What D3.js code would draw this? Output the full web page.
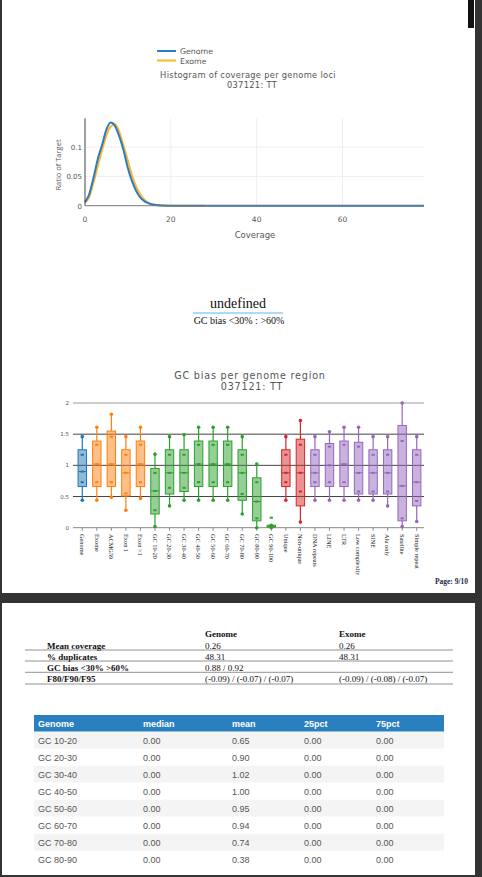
<!DOCTYPE html>
<html><head><meta charset="utf-8">
<script src="https://cdn.jsdelivr.net/npm/d3@7"></script>
<style>html,body{margin:0;padding:0;background:#333;overflow:hidden}svg{display:block}</style>
</head><body><svg id="c" width="482" height="877"></svg>
<script>
// ---------- data ----------
const covX = d3.range(0, 80);
const genomeHist = [0.006,0.02,0.048,0.08,0.104,0.13,0.142,0.136,0.118,0.094,0.064,0.041,0.024,0.013,0.007,0.0035,0.0016,0.0007,0.0003,0.0001].concat(d3.range(20,80).map(()=>0));
const exomeHist = [0.005,0.015,0.04,0.068,0.095,0.12,0.135,0.139,0.126,0.102,0.076,0.051,0.031,0.018,0.009,0.0045,0.002,0.001,0.0005,0.0002,0,0,0,0,0,0,0,0,0];
const histXTicks = [0,20,40,60];
const histYTicks = [0,0.05,0.1];

const cats = ["Genome","Exome","ACMG59","Exon 1","Exon >1","GC 10-20","GC 20-30","GC 30-40","GC 40-50","GC 50-60","GC 60-70","GC 70-80","GC 80-90","GC 90-100","Unique","Non-unique","DNA repeats","LINE","LTR","Low complexity","SINE","Alu only","Satellite","Simple repeat"];
const catGroup = [0,1,1,1,1,2,2,2,2,2,2,2,2,2,3,3,4,4,4,4,4,4,4,4];
const boxLo  = [0.44,0.44,0.49,0.28,0.47,0.02,0.35,0.44,0.44,0.44,0.44,0.22,0.00,0.00,0.44,0.09,0.44,0.44,0.44,0.44,0.44,0.35,0.02,0.10];
const boxQ1  = [0.66,0.66,0.66,0.51,0.66,0.22,0.54,0.58,0.66,0.66,0.66,0.44,0.11,0.01,0.66,0.35,0.66,0.66,0.66,0.54,0.54,0.54,0.11,0.35];
const boxMed = [0.90,1.02,1.02,0.88,1.02,0.59,0.88,0.88,1.02,1.02,1.02,0.88,0.42,0.02,0.88,0.88,0.88,1.00,1.02,0.88,0.88,0.88,0.67,0.73];
const boxQ3  = [1.25,1.39,1.55,1.25,1.39,0.95,1.25,1.25,1.39,1.39,1.39,1.25,0.80,0.04,1.25,1.42,1.25,1.35,1.39,1.37,1.25,1.25,1.64,1.25];
const boxHi  = [1.46,1.61,1.82,1.46,1.61,1.18,1.46,1.49,1.61,1.61,1.61,1.46,1.02,0.04,1.46,1.72,1.46,1.54,1.61,1.61,1.46,1.46,2.00,1.46];
const boxPts = [[0.73,1.17],[0.73,1.33],[0.73,1.46],[0.55,1.17],[0.73,1.33],[0.28,0.88],[0.64,1.17],[0.64,1.17],[0.73,1.33],[0.73,1.33],[0.73,1.33],[0.54,1.17],[0.15,0.73],[0.16],[0.73,1.17],[0.58,1.33],[0.73,1.17],[0.73,1.30],[0.73,1.33],[0.58,1.30],[0.58,1.17],[0.58,1.17],[0.15,1.39],[0.43,1.17]];
const boxYTicks = [0,0.5,1,1.5,2];
const groupColors = ["#1f77b4","#ff7f0e","#2ca02c","#d62728","#9467bd"];

const sumRows = ["Mean coverage","% duplicates","GC bias <30% >60%","F80/F90/F95"];
const sumGenome = ["0.26","48.31","0.88 / 0.92","(-0.09) / (-0.07) / (-0.07)"];
const sumExome = ["0.26","48.31","","(-0.09) / (-0.08) / (-0.07)"];

const gcHead = ["Genome","median","mean","25pct","75pct"];
const gcRows = ["GC 10-20","GC 20-30","GC 30-40","GC 40-50","GC 50-60","GC 60-70","GC 70-80","GC 80-90"];
const gcMedian = ["0.00","0.00","0.00","0.00","0.00","0.00","0.00","0.00"];
const gcMean = ["0.65","0.90","1.02","1.00","0.95","0.94","0.74","0.38"];
const gc25 = ["0.00","0.00","0.00","0.00","0.00","0.00","0.00","0.00"];
const gc75 = ["0.00","0.00","0.00","0.00","0.00","0.00","0.00","0.00"];

// ---------- drawing ----------
const svg = d3.select("#c");
const SANS = "'DejaVu Sans', Verdana, sans-serif";
const OPEN = "'Open Sans', 'DejaVu Sans', sans-serif";
const SERIF = "'Liberation Serif', 'DejaVu Serif', serif";
const ARIAL = "'Liberation Sans', Arial, sans-serif";

svg.append("rect").attr("x",0).attr("y",0).attr("width",482).attr("height",877).attr("fill","#333");
svg.append("rect").attr("x",2).attr("y",0).attr("width",473).attr("height",593).attr("fill","#fff");
svg.append("rect").attr("x",2).attr("y",603).attr("width",473).attr("height",272).attr("fill","#fff");
svg.append("rect").attr("x",468).attr("y",0).attr("width",6).attr("height",28).attr("fill","#111");

// ---- histogram ----
const hx = d3.scaleLinear().domain([0,79]).range([85,424]);
const hy = d3.scaleLinear().domain([0,0.149]).range([205.7,118.3]);
const hg = svg.append("g");
hg.selectAll(".vg").data(histXTicks.filter(d=>d>0)).join("line")
  .attr("x1",d=>hx(d)).attr("x2",d=>hx(d)).attr("y1",hy(0)).attr("y2",hy(0.149)).attr("stroke","#eee");
hg.selectAll(".hgl").data(histYTicks.filter(d=>d>0)).join("line")
  .attr("x1",hx(0)).attr("x2",hx(79)).attr("y1",d=>hy(d)).attr("y2",d=>hy(d)).attr("stroke","#eee");
const line = d3.line().x((d,i)=>hx(covX[i])).y(d=>hy(d)).curve(d3.curveMonotoneX);
hg.append("path").attr("d",line(exomeHist)).attr("fill","none").attr("stroke","#fdb72a").attr("stroke-width",2);
hg.append("path").attr("d",line(genomeHist)).attr("fill","none").attr("stroke","#2b7bc4").attr("stroke-width",2);
hg.append("line").attr("x1",hx(0)).attr("x2",hx(0)).attr("y1",hy(0)).attr("y2",hy(0.149)).attr("stroke","#444");
hg.append("line").attr("x1",hx(0)).attr("x2",hx(79)).attr("y1",hy(0)).attr("y2",hy(0)).attr("stroke","#777");
hg.selectAll(".xt").data(histXTicks).join("text").attr("x",d=>hx(d)).attr("y",222).attr("text-anchor","middle")
  .attr("font-family",SANS).attr("font-size",7.5).attr("fill","#555").text(d=>d);
hg.selectAll(".yt").data(histYTicks).join("text").attr("x",82).attr("y",d=>hy(d)+3).attr("text-anchor","end")
  .attr("font-family",SANS).attr("font-size",7).attr("fill","#555").text(d=>d===0?"0":d);
hg.append("text").attr("x",255).attr("y",238).attr("text-anchor","middle").attr("font-family",SANS).attr("font-size",8.5).attr("fill","#555").text("Coverage");
hg.append("text").attr("transform","translate(61,165) rotate(-90)").attr("text-anchor","middle").attr("font-family",OPEN).attr("font-size",7.5).attr("fill","#555").text("Ratio of Target");
hg.append("text").attr("x",248).attr("y",78).attr("text-anchor","middle").attr("font-family",SANS).attr("font-size",8.3).attr("letter-spacing",0.3).attr("fill","#555").text("Histogram of coverage per genome loci");
hg.append("text").attr("x",252).attr("y",88).attr("text-anchor","middle").attr("font-family",SANS).attr("font-size",8.3).attr("letter-spacing",0.3).attr("fill","#555").text("037121: TT");
const leg = [["Genome","#2b7bc4",51],["Exome","#fdb72a",60.5]];
leg.forEach(([t,c,y])=>{
  hg.append("line").attr("x1",157).attr("x2",176).attr("y1",y).attr("y2",y).attr("stroke",c).attr("stroke-width",2);
  hg.append("text").attr("x",180).attr("y",y+3).attr("font-family",SANS).attr("font-size",7.8).attr("fill","#555").text(t);
});

// ---- middle titles ----
svg.append("text").attr("x",238).attr("y",308).attr("text-anchor","middle").attr("font-family",SERIF).attr("font-size",14).attr("fill","#111").text("undefined");
svg.append("line").attr("x1",193).attr("x2",283).attr("y1",313).attr("y2",313).attr("stroke","#8fd0f5").attr("stroke-width",1.6);
svg.append("text").attr("x",239).attr("y",324).attr("text-anchor","middle").attr("font-family",SERIF).attr("font-size",10).attr("fill","#111").text("GC bias <30% : >60%");

// ---- box plot ----
const bx = d3.scaleBand().domain(cats).range([75,424]);
const by = d3.scaleLinear().domain([0,2]).range([527.7,403]);
const bg = svg.append("g");
bg.append("text").attr("x",250).attr("y",378.5).attr("text-anchor","middle").attr("font-family",SANS).attr("font-size",9.6).attr("letter-spacing",0.8).attr("fill","#555").text("GC bias per genome region");
bg.append("text").attr("x",252).attr("y",389.5).attr("text-anchor","middle").attr("font-family",SANS).attr("font-size",9.6).attr("letter-spacing",0.8).attr("fill","#555").text("037121: TT");
bg.selectAll(".gl").data(boxYTicks).join("line")
  .attr("x1",73).attr("x2",424).attr("y1",d=>by(d)).attr("y2",d=>by(d))
  .attr("stroke",d=>d===2?"#999":(d===0?"#888":"#444")).attr("stroke-width",1);
bg.selectAll(".tk").data(cats).join("line")
  .attr("x1",d=>bx(d)+bx.bandwidth()/2).attr("x2",d=>bx(d)+bx.bandwidth()/2).attr("y1",by(0)).attr("y2",by(0)+3).attr("stroke","#888");
bg.selectAll(".yl").data(boxYTicks).join("text").attr("x",69).attr("y",d=>by(d)+2).attr("text-anchor","end")
  .attr("font-family",SANS).attr("font-size",5.5).attr("fill","#555").text(d=>d);
const bw = 8.4;
cats.forEach((c,i)=>{
  const cx = bx(c)+bx.bandwidth()/2;
  const col = groupColors[catGroup[i]];
  const g = bg.append("g");
  g.append("line").attr("x1",cx).attr("x2",cx).attr("y1",by(boxLo[i])).attr("y2",by(boxQ1[i])).attr("stroke",col).attr("stroke-width",1.2);
  g.append("line").attr("x1",cx).attr("x2",cx).attr("y1",by(boxQ3[i])).attr("y2",by(boxHi[i])).attr("stroke",col).attr("stroke-width",1.2);
  const h = Math.max(by(boxQ1[i])-by(boxQ3[i]),1.5);
  g.append("rect").attr("x",cx-bw/2).attr("y",by(boxQ1[i])-h).attr("width",bw).attr("height",h)
    .attr("fill",col).attr("fill-opacity",0.5).attr("stroke",col).attr("stroke-width",1);
  g.append("line").attr("x1",cx-bw/2).attr("x2",cx+bw/2).attr("y1",by(boxMed[i])).attr("y2",by(boxMed[i])).attr("stroke",col).attr("stroke-width",1);
  const ends = boxLo[i]===boxHi[i]?[boxLo[i]]:[boxLo[i],boxHi[i]];
  ends.forEach(v=>g.append("circle").attr("cx",cx).attr("cy",by(v)).attr("r",1.8).attr("fill",col));
  boxPts[i].concat([boxMed[i]]).forEach(v=>g.append("rect").attr("x",cx-1.6).attr("y",by(v)-1).attr("width",3.2).attr("height",2).attr("fill",col));
  g.append("text").attr("transform",`translate(${cx-2.2},534) rotate(90)`).attr("font-family",SERIF).attr("font-size",6.3).attr("fill","#222").text(c);
});
svg.append("text").attr("x",468).attr("y",584).attr("text-anchor","end").attr("font-family",SERIF).attr("font-weight","bold").attr("font-size",7.5).attr("fill","#1e2a50").text("Page: 9/10");

// ---- summary table ----
const tg = svg.append("g").attr("font-family",SERIF).attr("font-size",9).attr("fill","#111");
tg.append("text").attr("x",205).attr("y",637).attr("font-weight","bold").text("Genome");
tg.append("text").attr("x",339).attr("y",637).attr("font-weight","bold").text("Exome");
const rowY = [648.5,659.5,670.5,682];
const lineY = [650,661,672.3,684];
sumRows.forEach((r,i)=>{
  tg.append("text").attr("x",47).attr("y",rowY[i]).attr("font-weight","bold").text(r);
  tg.append("text").attr("x",205).attr("y",rowY[i]).text(sumGenome[i]);
  tg.append("text").attr("x",339).attr("y",rowY[i]).text(sumExome[i]);
  tg.append("line").attr("x1",25).attr("x2",453).attr("y1",lineY[i]).attr("y2",lineY[i]).attr("stroke","#777").attr("stroke-width",0.8);
});

// ---- GC table ----
const colX = [38,143,232,304,376];
const gt = svg.append("g").attr("font-family",ARIAL).attr("font-size",9);
gt.append("rect").attr("x",34).attr("y",715).attr("width",410).attr("height",16.7).attr("fill","#2a7fbf");
gcHead.forEach((h,j)=>gt.append("text").attr("x",colX[j]).attr("y",726.5).attr("font-weight","bold").attr("fill","#fff").text(h));
gcRows.forEach((r,i)=>{
  const y0 = 731.7 + i*17;
  gt.append("rect").attr("x",34).attr("y",y0).attr("width",410).attr("height",17).attr("fill",i%2===0?"#f4f4f4":"#fff");
  const vals = [r,gcMedian[i],gcMean[i],gc25[i],gc75[i]];
  vals.forEach((v,j)=>gt.append("text").attr("x",colX[j]).attr("y",y0+12).attr("fill","#555").text(v));
});
</script></body></html>
